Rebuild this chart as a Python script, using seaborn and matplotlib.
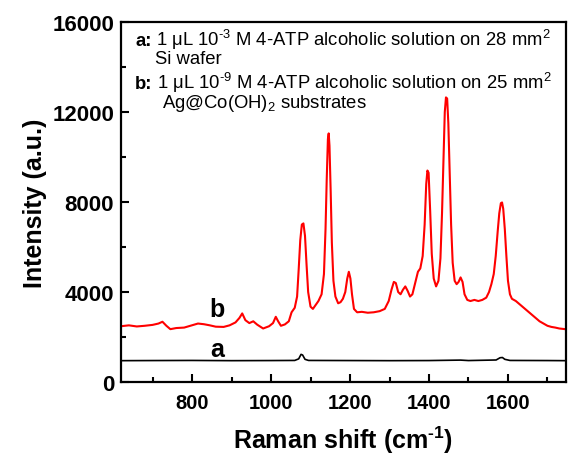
import matplotlib
matplotlib.use("Agg")
import matplotlib.pyplot as plt
import matplotlib.transforms as mtransforms
import seaborn as sns
import pandas as pd
from matplotlib.ticker import MultipleLocator

# ---- data ----
red_x = [620, 640, 660, 680, 700, 715, 725, 735, 745, 760, 780, 800, 815, 830, 845, 860,
         880, 895, 910, 920, 927, 935, 945, 955, 965, 980, 995, 1005, 1012, 1018, 1025,
         1035, 1045, 1052, 1060, 1066, 1070, 1074, 1078, 1082, 1086, 1090, 1094, 1100,
         1106, 1112, 1120, 1128, 1134, 1138, 1141, 1144, 1146, 1148, 1151, 1154, 1158,
         1163, 1170, 1176, 1182, 1188, 1193, 1197, 1201, 1205, 1210, 1218, 1230, 1245,
         1260, 1275, 1288, 1298, 1305, 1311, 1316, 1322, 1328, 1334, 1340, 1346, 1352,
         1358, 1365, 1372, 1378, 1384, 1389, 1393, 1396, 1399, 1403, 1407, 1412, 1418,
         1424, 1429, 1433, 1437, 1440, 1443, 1446, 1449, 1452, 1456, 1460, 1465, 1470,
         1475, 1480, 1485, 1490, 1497, 1505, 1515, 1525, 1535, 1545, 1552, 1558, 1564,
         1569, 1574, 1578, 1582, 1585, 1588, 1592, 1596, 1600, 1605, 1610, 1620, 1630,
         1640, 1650, 1660, 1670, 1680, 1690, 1700, 1710, 1720, 1730, 1745]
red_y = [2480, 2520, 2470, 2500, 2540, 2600, 2680, 2500, 2350, 2400, 2420, 2520, 2600, 2570,
         2520, 2460, 2450, 2520, 2650, 2850, 3050, 2750, 2620, 2700, 2550, 2380, 2480, 2620,
         2900, 2700, 2500, 2560, 2700, 3100, 3300, 3800, 5000, 6300, 7000, 7050, 6500, 5200,
         4000, 3350, 3250, 3400, 3600, 3900, 4800, 6800, 9000, 10800, 11050, 10500, 8500,
         6200, 4500, 3800, 3500, 3550, 3700, 4000, 4600, 4900, 4600, 3900, 3250, 3100, 3120,
         3080, 3100, 3150, 3250, 3600, 4100, 4450, 4400, 4000, 3900, 4100, 4250, 4050, 3800,
         3900, 4400, 4900, 5050, 5600, 7000, 8800, 9400, 9300, 7600, 5700, 4600, 4250, 4500,
         5500, 7500, 10000, 12000, 12650, 12600, 11500, 9500, 7000, 5300, 4500, 4350, 4450,
         4650, 4450, 3900, 3650, 3600, 3650, 3600, 3650, 3750, 4000, 4350, 4800, 5600, 6700,
         7500, 7950, 7980, 7700, 6800, 5600, 4500, 3900, 3700, 3600, 3450, 3300, 3150, 3000,
         2850, 2700, 2600, 2500, 2450, 2420, 2380, 2350]

black_x = [620, 700, 800, 900, 1000, 1060, 1070, 1076, 1080, 1086, 1095, 1200, 1300, 1400,
           1480, 1500, 1570, 1580, 1586, 1592, 1605, 1700, 1745]
black_y = [950, 955, 960, 950, 955, 960, 1030, 1230, 1200, 1010, 960, 955, 950, 955,
           975, 955, 980, 1080, 1090, 1010, 960, 955, 950]

xticks = [800, 1000, 1200, 1400, 1600]
yticks = [0, 4000, 8000, 12000, 16000]

sns.set_style("ticks")
plt.rcParams["font.family"] = ["Liberation Sans", "DejaVu Sans"]
plt.rcParams["mathtext.fontset"] = "custom"
plt.rcParams["mathtext.rm"] = "Liberation Sans"
plt.rcParams["mathtext.it"] = "Liberation Sans:italic"
plt.rcParams["mathtext.bf"] = "Liberation Sans:bold"
for k in ["text.color", "axes.labelcolor", "xtick.color", "ytick.color", "axes.edgecolor"]:
    plt.rcParams[k] = "black"

fig = plt.figure(figsize=(5.68, 4.56), dpi=100)
ax = fig.add_axes([0.213, 0.160, 0.7835, 0.7895])

df_red = pd.DataFrame({"x": red_x, "y": red_y})
df_black = pd.DataFrame({"x": black_x, "y": black_y})
sns.lineplot(data=df_black, x="x", y="y", ax=ax, color="black", linewidth=1.2, estimator=None)
sns.lineplot(data=df_red, x="x", y="y", ax=ax, color="#ff0000", linewidth=1.5, estimator=None)

ax.set_xlim(620, 1747)
ax.set_ylim(0, 16000)
ax.set_xticks(xticks)
ax.set_yticks(yticks)
ax.xaxis.set_minor_locator(MultipleLocator(100))
ax.yaxis.set_minor_locator(MultipleLocator(2000))
ax.tick_params(which="both", direction="in", width=1.5, top=False, right=False)
ax.tick_params(axis="x", labelsize=14.5, pad=8)
ax.tick_params(axis="y", labelsize=16, pad=5)
ax.tick_params(which="major", length=6)
ax.tick_params(which="minor", length=3.5)
for lab in ax.get_xticklabels() + ax.get_yticklabels():
    lab.set_fontweight("bold")
for s in ax.spines.values():
    s.set_visible(True)
    s.set_linewidth(1.6)

ax.set_xlabel(r"Raman shift (cm$^{\mathbf{‐1}}$)", fontsize=18, fontweight="bold", labelpad=8)
ax.set_ylabel("Intensity (a.u.)", fontsize=18, fontweight="bold", labelpad=4)

ax.text(864, 2930, "b", fontsize=18, fontweight="bold", ha="center", va="baseline")
ax.text(864, 1160, "a", fontsize=18, fontweight="bold", ha="center", va="baseline")

fs = 13.3
fig.canvas.draw()
renderer = fig.canvas.get_renderer()


def labelled_line(xf, yf, tag, rest):
    t = ax.text(xf, yf, tag, transform=ax.transAxes, fontsize=fs,
                fontweight="bold", va="baseline")
    w = t.get_window_extent(renderer=renderer).width
    tr = mtransforms.offset_copy(ax.transAxes, fig=fig, x=w + 4, y=0, units="dots")
    ax.text(xf, yf, rest, transform=tr, fontsize=fs, va="baseline")


labelled_line(0.032, 0.937, "a:", r"1 μL 10$^{‐3}$ M 4-ATP alcoholic solution on 28 mm$^2$")
ax.text(0.077, 0.886, "Si wafer", transform=ax.transAxes, fontsize=fs, va="baseline")
labelled_line(0.032, 0.817, "b:", r"1 μL 10$^{‐9}$ M 4-ATP alcoholic solution on 25 mm$^2$")
ax.text(0.093, 0.764, r"Ag@Co(OH)$_2$ substrates", transform=ax.transAxes, fontsize=fs, va="baseline")

fig.savefig("out.png", dpi=100)
